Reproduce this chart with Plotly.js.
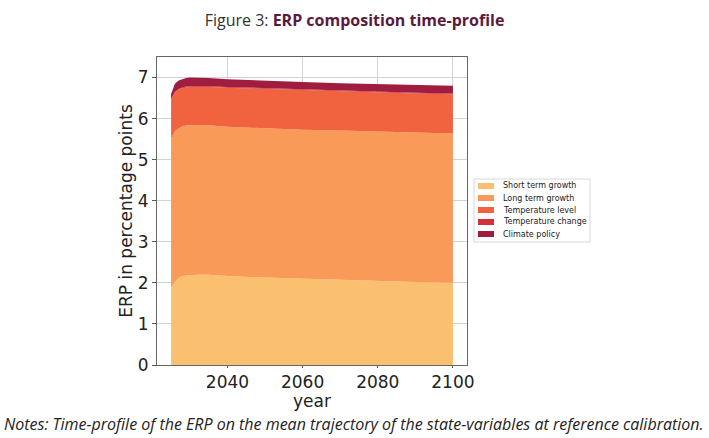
<!DOCTYPE html>
<html>
<head>
<meta charset="utf-8">
<script src="https://cdn.plot.ly/plotly-3.0.1.min.js"></script>
<style>
  html, body { margin: 0; padding: 0; background: #fff; }
  #chart { width: 709px; height: 438px; }
</style>
</head>
<body>
<div id="chart"></div>
<script>
// values (percentage points, each component on its own)
const years = [2025, 2026, 2027, 2028, 2029, 2030, 2032, 2035, 2040, 2050, 2060, 2070, 2080, 2090, 2100];
const shortTermGrowth = [1.87, 2.03, 2.11, 2.16, 2.18, 2.19, 2.2, 2.2, 2.17, 2.13, 2.1, 2.07, 2.04, 2.02, 2.0];
const longTermGrowth = [3.65, 3.66, 3.65, 3.65, 3.65, 3.65, 3.64, 3.64, 3.63, 3.63, 3.63, 3.64, 3.65, 3.64, 3.64];
const temperatureLevel = [0.93, 0.94, 0.94, 0.93, 0.93, 0.93, 0.93, 0.93, 0.95, 0.96, 0.96, 0.95, 0.95, 0.95, 0.95];
const temperatureChange = [0.02, 0.02, 0.02, 0.02, 0.02, 0.02, 0.02, 0.02, 0.02, 0.02, 0.02, 0.02, 0.02, 0.02, 0.02];
const climatePolicy = [0.13, 0.2, 0.21, 0.21, 0.21, 0.21, 0.21, 0.2, 0.19, 0.18, 0.18, 0.18, 0.18, 0.19, 0.19];

const seriesNames = ["Short term growth", "Long term growth", "Temperature level", "Temperature change", "Climate policy"];
const seriesValues = [shortTermGrowth, longTermGrowth, temperatureLevel, temperatureChange, climatePolicy];
const seriesColors = ["#fbc06f", "#f99a58", "#f1623f", "#d2303a", "#a01d40"];

const xTicks = [2040, 2060, 2080, 2100];
const yTicks = [0, 1, 2, 3, 4, 5, 6, 7];

const traces = seriesNames.map((name, i) => ({
  x: years,
  y: seriesValues[i],
  name: name,
  type: "scatter",
  mode: "lines",
  stackgroup: "erp",
  line: { width: 0, color: seriesColors[i] },
  fillcolor: seriesColors[i],
  hoverinfo: "x+y+name",
}));

// plotly's own legend rows are too tall for the 8px font, so the legend box is drawn by hand
// plot area is 310 x 308 px; legend position in paper units
const plotW = 310, plotH = 308;
const legLeft = 1 + (474 - 467) / plotW;
const legRight = 1 + (590 - 467) / plotW;
const legTop = (365 - 179) / plotH;
const legBottom = (365 - 242) / plotH;
const rowStep = 12 / plotH;

const shapes = [{
  type: "rect", xref: "paper", yref: "paper",
  x0: legLeft, x1: legRight, y0: legBottom, y1: legTop,
  line: { color: "#d8d8d8", width: 1 }, fillcolor: "#fff", layer: "above",
}];
const annotations = [];
seriesNames.forEach((name, i) => {
  const yc = legTop - (7 / plotH) - i * rowStep;
  shapes.push({
    type: "rect", xref: "paper", yref: "paper",
    x0: legLeft + 4 / plotW, x1: legLeft + 20 / plotW,
    y0: yc - 3 / plotH, y1: yc + 3 / plotH,
    line: { width: 0 }, fillcolor: seriesColors[i], layer: "above",
  });
  annotations.push({
    text: name, xref: "paper", yref: "paper",
    x: legLeft + 27 / plotW, y: yc, xanchor: "left", yanchor: "middle",
    showarrow: false,
    font: { family: "DejaVu Sans", size: 8, color: "#222" },
  });
});

const tickFont = { family: "DejaVu Sans", size: 17, color: "#222" };

// x axis title sits closer to the ticks than plotly's standoff allows
annotations.push({
  text: "year", xref: "paper", yref: "paper",
  x: 0.5, y: -(401 - 365) / plotH,
  xanchor: "center", yanchor: "middle",
  showarrow: false, font: tickFont,
});

annotations.push({
  text: "<i>Notes: Time-profile of the ERP on the mean trajectory of the state-variables at reference calibration.</i>",
  xref: "paper", yref: "paper",
  x: (354 - 157) / plotW,
  y: -(424 - 365) / plotH,
  xanchor: "center", yanchor: "middle",
  showarrow: false,
  font: { family: "Open Sans", size: 16, color: "#222" },
});

const layout = {
  width: 709,
  height: 438,
  paper_bgcolor: "#fff",
  plot_bgcolor: "#fff",
  margin: { l: 157, r: 242, t: 57, b: 73 },
  showlegend: false,
  xaxis: {
    range: [2021.25, 2103.75],
    tickvals: xTicks,
    ticktext: xTicks.map(String),
    tickfont: tickFont,
    ticks: "outside",
    ticklen: 2,
    tickcolor: "#555",
    showgrid: true,
    gridcolor: "#d3d3d3",
    showline: true,
    mirror: true,
    linecolor: "#666",
    linewidth: 1,
    zeroline: false,
  },
  yaxis: {
    range: [0, 7.5],
    tickvals: yTicks,
    ticktext: yTicks.map(String),
    tickfont: tickFont,
    ticks: "outside",
    ticklen: 4,
    tickcolor: "#555",
    showgrid: true,
    gridcolor: "#d3d3d3",
    showline: true,
    mirror: true,
    linecolor: "#666",
    linewidth: 1,
    zeroline: false,
    title: { text: "ERP in percentage points", font: tickFont, standoff: 0 },
  },
  title: {
    text: 'Figure 3: <b><span style="color:#5b1a3b">ERP composition time-profile</span></b>',
    font: { family: "Open Sans", size: 16, color: "#333" },
    x: 0.5,
    xanchor: "center",
    y: 0.953,
    yanchor: "middle",
  },
  shapes: shapes,
  annotations: annotations,
};

Plotly.newPlot("chart", traces, layout, { displayModeBar: false, staticPlot: true });
</script>
</body>
</html>
